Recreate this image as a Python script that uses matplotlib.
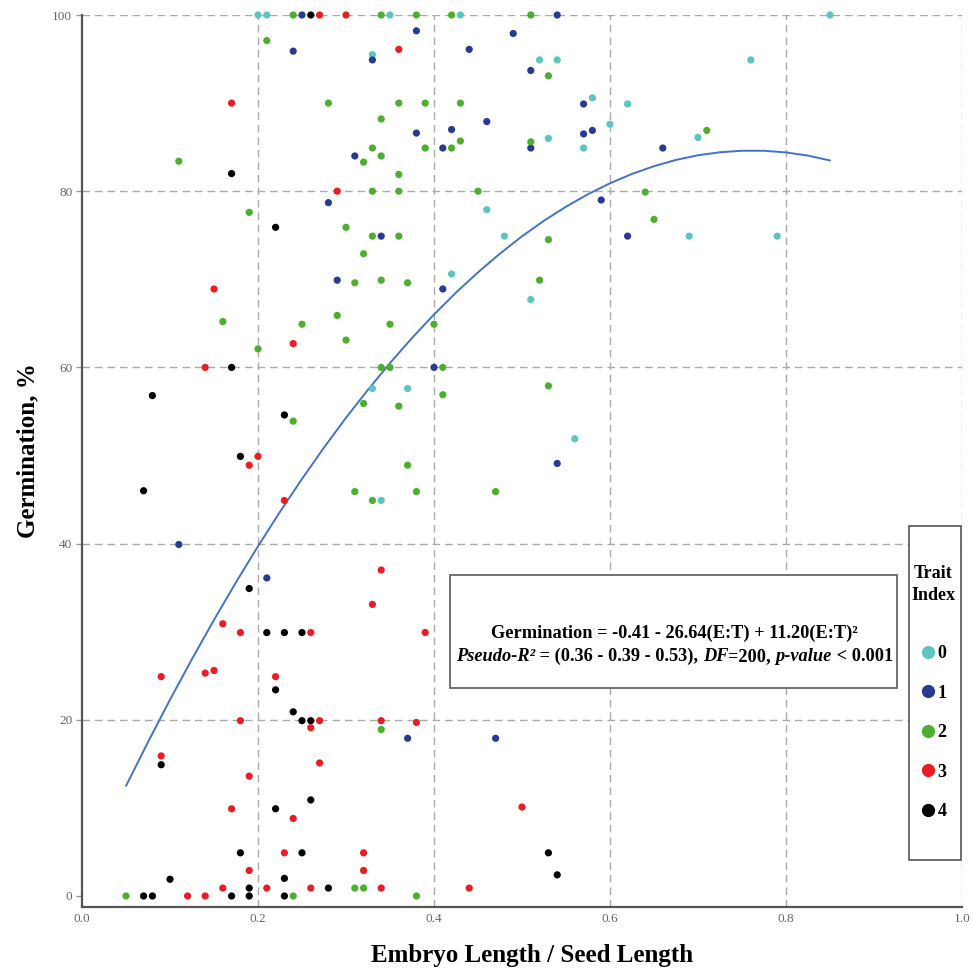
import matplotlib
matplotlib.use("Agg")
import matplotlib.pyplot as plt
from matplotlib.patches import Rectangle
from matplotlib.lines import Line2D

# ---------------- data ----------------
trait_labels = ["0", "1", "2", "3", "4"]
trait_colors = ["#5CC6BE", "#2A3A94", "#4CAF2E", "#EC1C24", "#000000"]

t0_x = [0.20, 0.21, 0.35, 0.43, 0.85, 0.33, 0.52, 0.54, 0.76, 0.58, 0.62, 0.60, 0.53, 0.57,
        0.70, 0.46, 0.48, 0.69, 0.79, 0.42, 0.51, 0.33, 0.37, 0.56, 0.34]
t0_y = [100, 100, 100, 100, 100, 95.5, 94.9, 94.9, 94.9, 90.6, 89.9, 87.6, 86.0, 84.9,
        86.1, 77.9, 74.9, 74.9, 74.9, 70.6, 67.7, 57.6, 57.6, 51.9, 44.9]

t1_x = [0.25, 0.54, 0.38, 0.49, 0.24, 0.44, 0.33, 0.51, 0.57, 0.46, 0.42, 0.58, 0.38, 0.57,
        0.41, 0.51, 0.66, 0.31, 0.59, 0.28, 0.34, 0.62, 0.29, 0.41, 0.40, 0.54, 0.11, 0.21,
        0.37, 0.47]
t1_y = [100, 100, 98.2, 97.9, 95.9, 96.1, 94.9, 93.7, 89.9, 87.9, 87.0, 86.9, 86.6, 86.5,
        84.9, 84.9, 84.9, 84.0, 79.0, 78.7, 74.9, 74.9, 69.9, 68.9, 60.0, 49.1, 39.9, 36.1,
        17.9, 17.9]

t2_x = [0.24, 0.34, 0.38, 0.42, 0.51, 0.21, 0.53, 0.28, 0.36, 0.39, 0.43, 0.34, 0.71, 0.43,
        0.51, 0.39, 0.42, 0.33, 0.34, 0.32, 0.11, 0.36, 0.33, 0.36, 0.45, 0.64, 0.19, 0.65,
        0.30, 0.33, 0.36, 0.53, 0.32, 0.52, 0.31, 0.34, 0.37, 0.16, 0.25, 0.29, 0.35, 0.40,
        0.30, 0.20, 0.34, 0.35, 0.41, 0.53, 0.41, 0.32, 0.36, 0.24, 0.37, 0.31, 0.38, 0.47,
        0.33, 0.34, 0.31, 0.32, 0.05, 0.24, 0.38]
t2_y = [100, 100, 100, 100, 100, 97.1, 93.1, 90.0, 90.0, 90.0, 90.0, 88.2, 86.9, 85.7,
        85.6, 84.9, 84.9, 84.9, 84.0, 83.3, 83.4, 81.9, 80.0, 80.0, 80.0, 79.9, 77.6, 76.8,
        75.9, 74.9, 74.9, 74.5, 72.9, 69.9, 69.6, 69.9, 69.6, 65.2, 64.9, 65.9, 64.9, 64.9,
        63.1, 62.1, 60.0, 60.0, 60.0, 57.9, 56.9, 55.9, 55.6, 53.9, 48.9, 45.9, 45.9, 45.9,
        44.9, 18.9, 0.9, 0.9, 0, 0, 0]

t3_x = [0.27, 0.30, 0.36, 0.17, 0.29, 0.15, 0.24, 0.14, 0.20, 0.19, 0.23, 0.34, 0.33, 0.16,
        0.18, 0.26, 0.39, 0.09, 0.14, 0.15, 0.22, 0.18, 0.27, 0.26, 0.34, 0.38, 0.09, 0.27,
        0.19, 0.17, 0.24, 0.50, 0.23, 0.32, 0.19, 0.32, 0.16, 0.21, 0.26, 0.34, 0.44, 0.12,
        0.14]
t3_y = [100, 100, 96.1, 90.0, 80.0, 68.9, 62.7, 60.0, 49.9, 48.9, 44.9, 37.0, 33.1, 30.9,
        29.9, 29.9, 29.9, 24.9, 25.3, 25.6, 24.9, 19.9, 19.9, 19.1, 19.9, 19.7, 15.9, 15.1,
        13.6, 9.9, 8.8, 10.1, 4.9, 4.9, 2.9, 2.9, 0.9, 0.9, 0.9, 0.9, 0.9, 0, 0]

t4_x = [0.26, 0.17, 0.22, 0.17, 0.08, 0.23, 0.18, 0.07, 0.19, 0.21, 0.23, 0.25, 0.22, 0.24,
        0.25, 0.26, 0.09, 0.26, 0.22, 0.18, 0.25, 0.53, 0.54, 0.10, 0.23, 0.19, 0.28, 0.07,
        0.08, 0.17, 0.19, 0.23]
t4_y = [100, 82.0, 75.9, 60.0, 56.8, 54.6, 49.9, 46.0, 34.9, 29.9, 29.9, 29.9, 23.4, 20.9,
        19.9, 19.9, 14.9, 10.9, 9.9, 4.9, 4.9, 4.9, 2.4, 1.9, 2.0, 0.9, 0.9, 0, 0, 0, 0, 0]

series_x = [t0_x, t1_x, t2_x, t3_x, t4_x]
series_y = [t0_y, t1_y, t2_y, t3_y, t4_y]
draw_order = [4, 0, 1, 2, 3]

# fitted regression curve
curve_x = [0.050, 0.075, 0.100, 0.125, 0.150, 0.175, 0.200, 0.225, 0.250, 0.275, 0.300,
           0.325, 0.350, 0.375, 0.400, 0.425, 0.450, 0.475, 0.500, 0.525, 0.550, 0.575,
           0.600, 0.625, 0.650, 0.675, 0.700, 0.725, 0.750, 0.775, 0.800, 0.825, 0.850]
curve_y = [12.49, 17.47, 22.28, 26.90, 31.34, 35.61, 39.70, 43.61, 47.34, 50.90, 54.28,
           57.47, 60.49, 63.34, 66.00, 68.49, 70.79, 72.92, 74.88, 76.65, 78.24, 79.66,
           80.90, 81.96, 82.84, 83.55, 84.08, 84.42, 84.59, 84.59, 84.40, 84.04, 83.49]

x_ticks = [0.0, 0.2, 0.4, 0.6, 0.8, 1.0]
x_tick_labels = ["0.0", "0.2", "0.4", "0.6", "0.8", "1.0"]
y_ticks = [0, 20, 40, 60, 80, 100]
y_tick_labels = ["0", "20", "40", "60", "80", "100"]

eq_line1 = "Germination = -0.41 - 26.64(E:T) + 11.20(E:T)\u00b2"
eq_line2 = [("Pseudo-R\u00b2", "italic"), (" = (0.36 - 0.39 - 0.53), ", "normal"),
            ("DF", "italic"), ("=200, ", "normal"), ("p-value", "italic"),
            (" < 0.001", "normal")]

# ---------------- figure ----------------
SERIF = "Liberation Serif"
fig = plt.figure(figsize=(9.73, 9.72), dpi=100)
ax = fig.add_axes([82 / 973, (972 - 907) / 972, 880 / 973, 892 / 972])

for i in draw_order:
    ax.scatter(series_x[i], series_y[i], s=27, color=trait_colors[i], edgecolors="none",
               zorder=3, clip_on=False)

ax.plot(curve_x, curve_y, color="#4472C4", lw=1.4, zorder=2.5,
        solid_joinstyle="round", solid_capstyle="round")

ax.set_xlim(0, 1.0)
ax.set_ylim(-1.25, 100)
ax.set_xticks(x_ticks)
ax.set_xticklabels(x_tick_labels)
ax.set_yticks(y_ticks)
ax.set_yticklabels(y_tick_labels)

for lab in ax.get_xticklabels() + ax.get_yticklabels():
    lab.set_family(SERIF)
    lab.set_fontsize(9.5)
    lab.set_color("#666666")

ax.tick_params(axis="x", length=0, pad=4)
ax.tick_params(axis="y", length=4, width=1, color="#999999", pad=3)

ax.grid(True, color="#AAAAAA", lw=1.0, linestyle=(0, (5.5, 3.5)), zorder=0)
ax.yaxis.get_gridlines()[0].set_visible(False)
ax.xaxis.get_gridlines()[0].set_visible(False)
ax.set_axisbelow(True)

for s in ["top", "right"]:
    ax.spines[s].set_visible(False)
for s in ["left", "bottom"]:
    ax.spines[s].set_color("#555555")
    ax.spines[s].set_linewidth(1.6)

fig.text(28 / 973, 1 - 451 / 972, "Germination, %", rotation=90, ha="center", va="center",
         family=SERIF, fontweight="bold", fontsize=18)
fig.text(532 / 973, 1 - 955 / 972, "Embryo Length / Seed Length", ha="center", va="center",
         family=SERIF, fontweight="bold", fontsize=18)

# ---------------- equation box ----------------
ax.add_patch(Rectangle((0.418, 0.2455), 0.508, 0.1267, transform=ax.transAxes,
                       facecolor="white", edgecolor="#666666", lw=1.3, zorder=5,
                       clip_on=False))
FS = 13.2
xc = (674.5 - 82) / 880
ax.text(xc, (907 - 638) / 892, eq_line1, transform=ax.transAxes, ha="center",
        va="baseline", family=SERIF, fontweight="bold", fontsize=FS, zorder=6)

renderer = fig.canvas.get_renderer()
axw = ax.get_window_extent(renderer).width


def measure(s, style):
    t1 = ax.text(0, 0, "a" + s + "a", family=SERIF, fontweight="bold", fontstyle=style,
                 fontsize=FS)
    t2 = ax.text(0, 0, "aa", family=SERIF, fontweight="bold", fontstyle=style, fontsize=FS)
    w = t1.get_window_extent(renderer).width - t2.get_window_extent(renderer).width
    t1.remove()
    t2.remove()
    return w


widths = [measure(s, st) for s, st in eq_line2]
x = (674.5 - 82) / 880 - sum(widths) / 2 / axw
yb = (907 - 661) / 892
for (s, st), w in zip(eq_line2, widths):
    ax.text(x, yb, s, transform=ax.transAxes, ha="left", va="baseline", family=SERIF,
            fontweight="bold", fontstyle=st, fontsize=FS, zorder=6)
    x += w / axw

# ---------------- legend ----------------
ax.add_patch(Rectangle((0.9398, 0.0527), 0.0591, 0.3744, transform=ax.transAxes,
                       facecolor="white", edgecolor="#555555", lw=1.2, zorder=5,
                       clip_on=False))
ax.text((933 - 82) / 880, (907 - 584.5) / 892, "Trait\nIndex", transform=ax.transAxes,
        ha="center", va="center", family=SERIF, fontweight="bold", fontsize=13,
        linespacing=1.4, zorder=6)
handles = [Line2D([], [], marker="o", ls="", color=c, markersize=8.5) for c in trait_colors]
leg = ax.legend(handles, trait_labels, loc="upper center",
                bbox_to_anchor=((934 - 82) / 880, (907 - 645) / 892),
                frameon=False, borderpad=0, labelspacing=1.25, handlelength=0.7,
                handletextpad=0.2, borderaxespad=0,
                prop={"family": SERIF, "weight": "bold", "size": 13})
leg.set_zorder(7)

fig.savefig("out.png", dpi=100)
